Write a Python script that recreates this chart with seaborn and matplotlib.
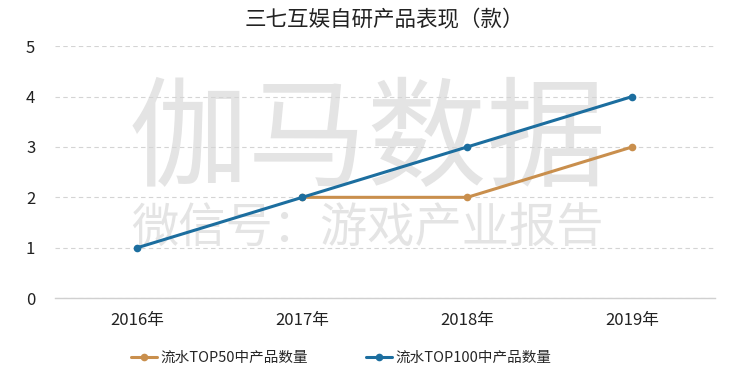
import matplotlib
matplotlib.use("Agg")
import matplotlib.pyplot as plt
import seaborn as sns
import pandas as pd
import numpy as np

years = ["2016年", "2017年", "2018年", "2019年"]
top50 = [np.nan, 2, 2, 3]
top100 = [1, 2, 3, 4]
series_names = ["流水TOP50中产品数量", "流水TOP100中产品数量"]
yticks = [0, 1, 2, 3, 4, 5]
title = "三七互娱自研产品表现（款）"

sns.set_theme(style="white")
plt.rcParams["font.family"] = ["Noto Sans CJK SC", "DejaVu Sans"]

df = pd.DataFrame({
    "year": years * 2,
    "value": top50 + top100,
    "series": [series_names[0]] * 4 + [series_names[1]] * 4,
}).dropna()
df["year"] = pd.Categorical(df["year"], categories=years, ordered=True)

fig = plt.figure(figsize=(7.5, 3.69), dpi=100)
ax = fig.add_axes([0.073, 0.192, 0.88, 0.683])

# watermark
ax.text(0.474, 0.616, "伽马数据", transform=ax.transAxes, ha="center", va="center",
        fontsize=86, color="#e4e4e4", zorder=0, fontweight="medium")
ax.text(0.473, 0.276, "微信号：游戏产业报告", transform=ax.transAxes, ha="center", va="center",
        fontsize=34, color="#e4e4e4", zorder=0)

sns.lineplot(data=df, x="year", y="value", hue="series", hue_order=series_names,
             palette=["#C98F4D", "#1C6E9F"], marker="o", markersize=5.5,
             markeredgewidth=0, linewidth=2.2, ax=ax, zorder=3)

ax.set_xlim(-0.5, 3.5)
ax.set_ylim(0, 5)
ax.set_yticks(yticks)
ax.set_xticks(range(len(years)))
ax.set_xticklabels(years)
ax.set_xlabel("")
ax.set_ylabel("")
ax.yaxis.grid(True, linestyle=(0, (4, 3)), color="#d4d4d4", linewidth=0.8)
ax.set_axisbelow(True)
for s in ["left", "right", "top"]:
    ax.spines[s].set_visible(False)
ax.spines["bottom"].set_color("#d0d0d0")
ax.spines["bottom"].set_linewidth(1.0)
ax.tick_params(axis="both", length=0, labelsize=12, colors="#222222")
ax.tick_params(axis="y", pad=14)
ax.tick_params(axis="x", pad=10)

ax.set_title(title, fontsize=15.5, color="#222222", pad=14)

handles, labels = ax.get_legend_handles_labels()
ax.legend(handles=handles, labels=labels, loc="lower center",
          bbox_to_anchor=(0.455, -0.025), bbox_transform=fig.transFigure, ncol=2,
          frameon=False, fontsize=10.5, handlelength=1.8, handletextpad=0.2,
          columnspacing=4.0)

fig.savefig("out.png", dpi=100)
